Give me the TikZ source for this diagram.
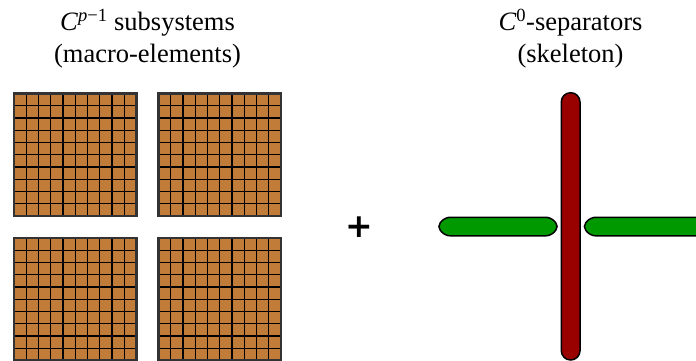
\documentclass[tikz,border=0pt]{standalone}
\usepackage{fontspec}
\setmainfont{Liberation Serif}
\newfontfamily\plusfont{DejaVu Sans}
\definecolor{brick}{RGB}{194,124,58}
\definecolor{skelred}{RGB}{153,0,0}
\definecolor{skelgreen}{RGB}{0,153,0}
\begin{document}
\begin{tikzpicture}[x=1pt,y=-1pt,
  title/.style={anchor=base, inner sep=0pt, font=\fontsize{26.5}{32}\selectfont},
  cellgrid/.style={draw=black, line width=1.4pt},
  blockframe/.style={draw=black!80, line width=2.2pt},
  sepbar/.style={draw=black, line width=1.5pt, line join=round}]
\useasboundingbox (0,0) rectangle (696,361);
\clip (0,0) rectangle (696,361);

% headings
\node[title] (leftA) at (147.5,30.7) {\textit{C}\textsuperscript{\textit{p}−1} subsystems};
\node[title] (leftB) at (147.5,63) {(macro-elements)};
\node[title] (rightA) at (570.5,30.7) {\textit{C}\textsuperscript{0}-separators};
\node[title] (rightB) at (570.5,63) {(skeleton)};

% four macro-elements, each a 10 x 10 mesh
\foreach \bx/\by in {14/93.5, 158.5/93.5, 14/238, 158.5/238} {
  \fill[brick] (\bx,\by) rectangle ++(122.5,122.5);
  \foreach \k in {1,...,9} {
    \draw[cellgrid] (\bx+\k*12.25,\by) -- ++(0,122.5);
    \draw[cellgrid] (\bx,\by+\k*12.25) -- ++(122.5,0);
  }
  \draw[blockframe] (\bx,\by) rectangle ++(122.5,122.5);
}

% plus sign
\node[font=\plusfont\bfseries\fontsize{33}{33}\selectfont, inner sep=0pt] (plus) at (359,227) {+};

% skeleton: horizontal separators
\draw[sepbar, fill=skelgreen, rounded corners=5pt]
  (437,226.5) -- (445,217.3) -- (551,217.3) -- (559,226.5) -- (551,235.8) -- (445,235.8) -- cycle;
\draw[sepbar, fill=skelgreen, rounded corners=5pt]
  (582.5,226.5) -- (590.5,217.3) -- (730,217.3) -- (739,226.5) -- (730,235.8) -- (590.5,235.8) -- cycle;
% vertical separator
\draw[sepbar, fill=skelred, rounded corners=9.3pt] (561.3,92.7) rectangle (580,360);
\end{tikzpicture}
\end{document}
